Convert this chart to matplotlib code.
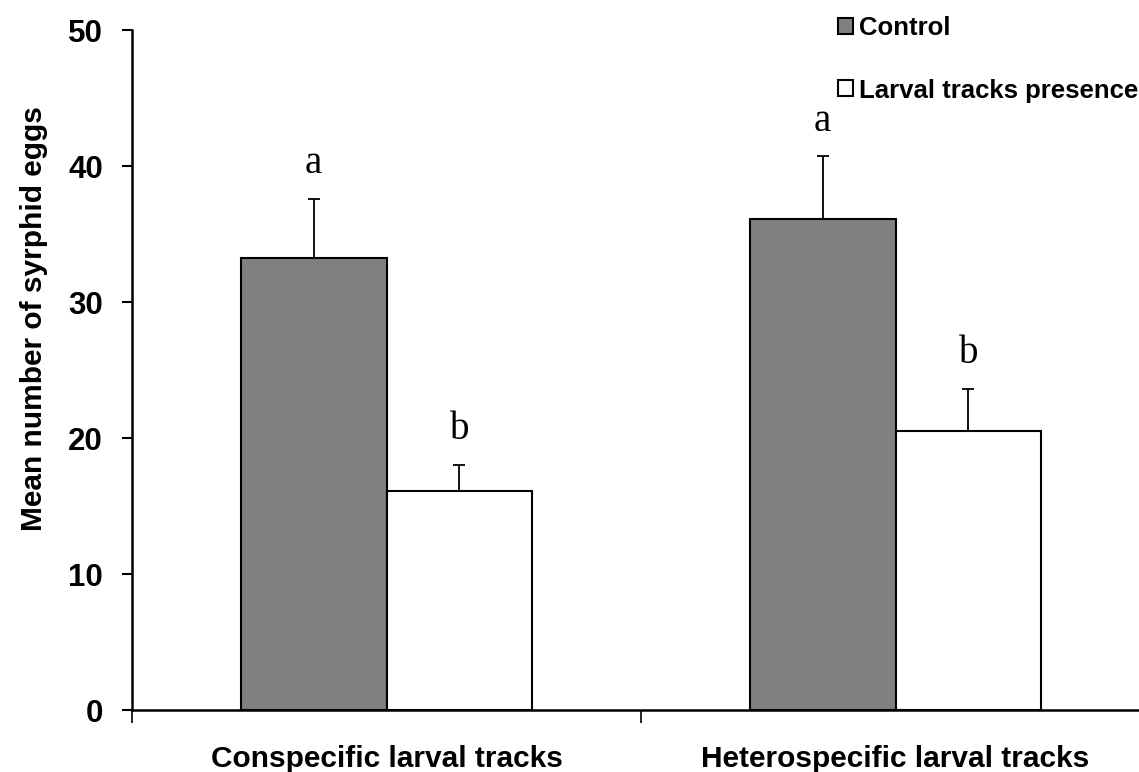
import matplotlib
matplotlib.use("Agg")
import matplotlib.pyplot as plt
import numpy as np

categories = ["Conspecific larval tracks", "Heterospecific larval tracks"]
series_names = ["Control", "Larval tracks presence"]
control_means = [33.2, 36.1]
control_se = [4.4, 4.6]
tracks_means = [16.1, 20.5]
tracks_se = [1.9, 3.1]
control_letters = ["a", "a"]
tracks_letters = ["b", "b"]
yticks = [0, 10, 20, 30, 40, 50]

fig = plt.figure(figsize=(11.39, 7.72), dpi=100)
ax = fig.add_axes([132/1139, 1-710/772, 1018/1139, 680/772])

x = np.arange(len(categories))
w = 0.286
b1 = ax.bar(x - w/2, control_means, w, color="#808080", edgecolor="black", linewidth=1.5, zorder=2)
b2 = ax.bar(x + w/2, tracks_means, w, color="white", edgecolor="black", linewidth=1.5, zorder=2)
ax.errorbar(x - w/2, control_means, yerr=[np.zeros(2), control_se], fmt="none",
            ecolor="black", elinewidth=1.3, capsize=4.5, capthick=1.3, zorder=1)
ax.errorbar(x + w/2, tracks_means, yerr=[np.zeros(2), tracks_se], fmt="none",
            ecolor="black", elinewidth=1.3, capsize=4.5, capthick=1.3, zorder=1)

gap = 1.9
for i in range(len(categories)):
    ax.text(x[i] - w/2, control_means[i] + control_se[i] + gap, control_letters[i],
            ha="center", va="baseline", fontsize=28, family="Liberation Serif")
    ax.text(x[i] + w/2, tracks_means[i] + tracks_se[i] + gap, tracks_letters[i],
            ha="center", va="baseline", fontsize=28, family="Liberation Serif")

ax.set_xlim(-0.5, 1.5)
ax.set_ylim(0, 50)
ax.set_yticks(yticks)
ax.set_yticklabels([str(t) for t in yticks], fontsize=22.5, fontweight="bold", family="Liberation Sans")
ax.tick_params(axis="y", direction="out", length=7, width=1.5, pad=14)

ax.set_xticks(x)
ax.set_xticklabels(categories, fontsize=21.5, fontweight="bold", family="Liberation Sans")
ax.tick_params(axis="x", which="major", length=0, pad=25)
ax.set_xticks([-0.5, 0.5, 1.5], minor=True)
ax.tick_params(axis="x", which="minor", direction="out", length=9, width=1.2)

for s in ["top", "right"]:
    ax.spines[s].set_visible(False)
ax.spines["left"].set_linewidth(1.8)
ax.spines["bottom"].set_linewidth(1.8)

ax.set_ylabel("Mean number of syrphid eggs", fontsize=21.5, fontweight="bold",
              family="Liberation Sans")
ax.yaxis.set_label_coords(-0.083, 0.576)

leg = fig.legend([b1, b2], series_names, loc="upper left",
                 bbox_to_anchor=(838/1139, 1 - 16/772), frameon=False,
                 prop={"family": "Liberation Sans", "weight": "bold", "size": 18.5},
                 handlelength=0.58, handleheight=0.58, handletextpad=0.25,
                 labelspacing=1.5, borderpad=0, borderaxespad=0)

fig.savefig("out.png", dpi=100)
